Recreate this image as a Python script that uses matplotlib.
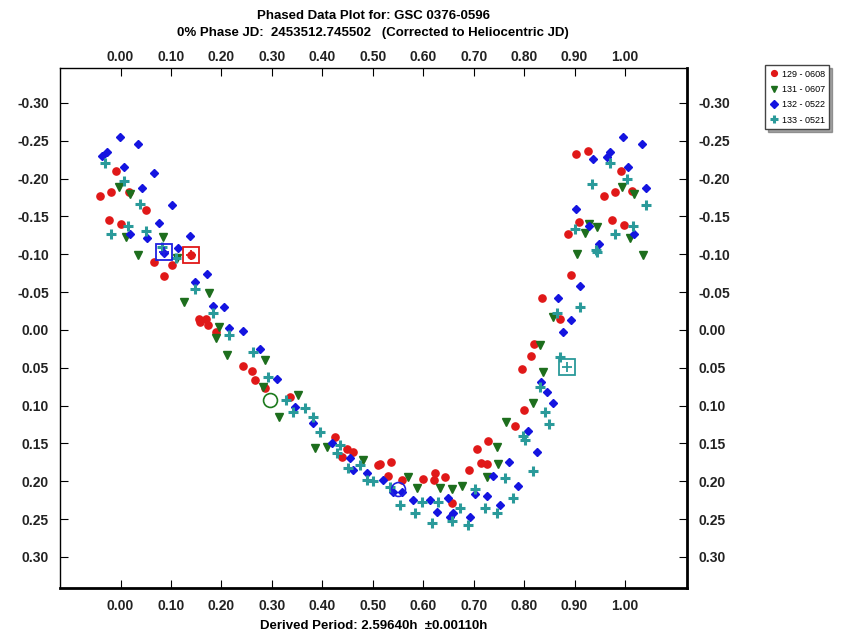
import numpy as np
import matplotlib
matplotlib.use("Agg")
import matplotlib.pyplot as plt
from matplotlib.ticker import FixedLocator, FuncFormatter

plt.rcParams['font.family'] = ['Liberation Sans', 'DejaVu Sans']
plt.rcParams['axes.unicode_minus'] = False

# Series 129 - 0608 (red circles)
fase_129 = [-0.04, -0.018, -0.008, 0.016, 0.05, -0.022, 0.0, 0.067, 0.103, 0.087, 0.14,
            0.155, 0.169, 0.157, 0.173, 0.19, 0.242, 0.26, 0.266, 0.286, 0.335, 0.425,
            0.448, 0.44, 0.46, 0.51, 0.514, 0.536, 0.53, 0.557, 0.60, 0.623, 0.643, 0.621,
            0.657, 0.69, 0.706, 0.714, 0.726, 0.728, 0.782, 0.80, 0.893, 0.835, 0.871,
            0.82, 0.813, 0.796, 0.903, 0.927, 0.992, 0.958, 0.98, 1.014, 0.909, 0.887,
            0.974, 0.998]
mag_129 = [-0.177, -0.182, -0.21, -0.182, -0.158, -0.145, -0.14, -0.09, -0.086, -0.071, -0.099,
           -0.015, -0.015, -0.011, -0.007, 0.003, 0.048, 0.054, 0.066, 0.077, 0.088, 0.141,
           0.158, 0.168, 0.161, 0.178, 0.177, 0.174, 0.193, 0.198, 0.197, 0.189, 0.194, 0.198,
           0.229, 0.185, 0.157, 0.176, 0.177, 0.147, 0.127, 0.106, -0.073, -0.042, -0.015,
           0.018, 0.034, 0.051, -0.233, -0.237, -0.21, -0.177, -0.182, -0.184, -0.143, -0.127,
           -0.145, -0.139]

# Series 131 - 0607 (green triangles)
fase_131 = [-0.004, 0.018, 0.01, 0.034, 0.085, 0.111, 0.175, 0.125, 0.196, 0.19, 0.212,
            0.286, 0.282, 0.315, 0.351, 0.385, 0.409, 0.48, 0.569, 0.587, 0.633, 0.657,
            0.677, 0.726, 0.748, 0.746, 0.764, 0.817, 0.905, 1.036, 0.857, 0.831, 0.837,
            0.994, 1.018, 0.921, 0.944, 0.929, 1.01]
mag_131 = [-0.189, -0.18, -0.123, -0.099, -0.123, -0.095, -0.049, -0.037, -0.004, 0.011, 0.033,
           0.04, 0.075, 0.115, 0.086, 0.156, 0.155, 0.172, 0.194, 0.209, 0.209, 0.21,
           0.206, 0.194, 0.177, 0.155, 0.122, 0.096, -0.1, -0.099, -0.017, 0.02, 0.055,
           -0.189, -0.18, -0.128, -0.136, -0.14, -0.122]

# Series 132 - 0522 (blue diamonds)
fase_132 = [-0.002, 0.034, -0.026, -0.036, 0.006, 0.067, 0.042, 0.103, 0.077, 0.052, 0.018,
            0.137, 0.087, 0.113, 0.171, 0.147, 0.183, 0.206, 0.216, 0.242, 0.276, 0.31,
            0.345, 0.381, 0.419, 0.454, 0.46, 0.488, 0.52, 0.54, 0.557, 0.579, 0.613, 0.627,
            0.649, 0.659, 0.653, 0.692, 0.702, 0.726, 0.752, 0.738, 0.77, 0.788, 0.808,
            0.825, 0.857, 0.911, 0.867, 0.893, 0.877, 0.833, 0.845, 0.996, 1.034, 0.97,
            0.964, 0.937, 1.006, 1.042, 0.903, 0.929, 1.018, 0.948]
mag_132 = [-0.255, -0.246, -0.235, -0.23, -0.215, -0.207, -0.188, -0.165, -0.141, -0.122, -0.127,
           -0.124, -0.102, -0.108, -0.074, -0.063, -0.032, -0.03, -0.003, 0.001, 0.025, 0.065,
           0.102, 0.123, 0.149, 0.169, 0.185, 0.189, 0.198, 0.214, 0.214, 0.225, 0.225, 0.24,
           0.222, 0.242, 0.247, 0.247, 0.217, 0.22, 0.232, 0.193, 0.174, 0.206, 0.133,
           0.161, 0.096, -0.058, -0.042, -0.013, 0.003, 0.069, 0.082, -0.255, -0.246, -0.235,
           -0.229, -0.226, -0.215, -0.188, -0.16, -0.138, -0.127, -0.114]

# Series 133 - 0521 (teal crosses)
fase_133 = [-0.03, 0.006, 0.038, 0.014, -0.018, 0.05, 0.083, 0.109, 0.147, 0.183, 0.216,
            0.262, 0.292, 0.329, 0.341, 0.365, 0.395, 0.381, 0.435, 0.429, 0.45, 0.474,
            0.488, 0.5, 0.534, 0.554, 0.583, 0.597, 0.629, 0.617, 0.657, 0.673, 0.688,
            0.702, 0.722, 0.746, 0.762, 0.778, 0.798, 0.817, 0.841, 0.849, 0.944, 0.911,
            0.865, 0.871, 0.831, 0.802, 0.97, 1.004, 0.935, 1.042, 0.90, 1.016, 0.98, 0.942]
mag_133 = [-0.22, -0.197, -0.166, -0.137, -0.127, -0.131, -0.11, -0.095, -0.054, -0.022, 0.007,
           0.029, 0.062, 0.092, 0.108, 0.103, 0.135, 0.115, 0.152, 0.162, 0.182, 0.178,
           0.198, 0.2, 0.207, 0.232, 0.242, 0.228, 0.227, 0.255, 0.253, 0.235, 0.258,
           0.21, 0.235, 0.242, 0.196, 0.222, 0.14, 0.187, 0.108, 0.124, -0.103, -0.03,
           -0.022, 0.036, 0.075, 0.145, -0.221, -0.2, -0.193, -0.165, -0.133, -0.137, -0.127, -0.106]

# marcadores de referência (quadrados / círculos)
ref_fase = [0.14, 0.087, 0.885]
ref_mag = [-0.099, -0.103, 0.049]
ref_cor = ['#e01818', '#2020e0', '#2a9a9a']
circ_fase = [0.296, 0.55]
circ_mag = [0.092, 0.21]
circ_cor = ['#1d7a1d', '#2020e0']

rotulos = ['129 - 0608', '131 - 0607', '132 - 0522', '133 - 0521']
cores = ['#e01818', '#1d6e1d', '#1414e0', '#2a9a9a']

fmt = FuncFormatter(lambda v, p: '%.2f' % (0.0 if abs(v) < 1e-9 else v))

fig = plt.figure(figsize=(8.52, 6.37), dpi=100)
ax = fig.add_axes([0.0704, 0.077, 0.736, 0.816])

ax.plot(fase_129, mag_129, 'o', color=cores[0], ms=5.2, mec=cores[0], label=rotulos[0])
ax.plot(fase_131, mag_131, 'v', color=cores[1], ms=6.2, mec=cores[1], label=rotulos[1])
ax.plot(fase_132, mag_132, 'D', color=cores[2], ms=4.5, mec=cores[2], label=rotulos[2])
ax.plot(fase_133, mag_133, '+', color=cores[3], ms=7.5, mew=2.2, label=rotulos[3])

for x, y, c in zip(ref_fase, ref_mag, ref_cor):
    ax.plot(x, y, 's', mfc='none', mec=c, ms=11, mew=1.3)
    ax.plot(x, y, '+', color=c, ms=7, mew=1.3)
for x, y, c in zip(circ_fase, circ_mag, circ_cor):
    ax.plot(x, y, 'o', mfc='none', mec=c, ms=10, mew=1.2)

ax.set_xlim(-0.12, 1.123)
ax.set_ylim(0.341, -0.346)

ax.xaxis.set_major_locator(FixedLocator(np.arange(0, 1.01, 0.1)))
ax.yaxis.set_major_locator(FixedLocator(np.arange(-0.30, 0.301, 0.05)))
ax.xaxis.set_major_formatter(fmt)
ax.yaxis.set_major_formatter(fmt)
ax.tick_params(axis='both', direction='in', top=True, right=True,
               labelright=True, labelsize=10, length=6, pad=8)

# eixo superior com os mesmos valores de fase
topo = ax.secondary_xaxis('top')
topo.xaxis.set_major_locator(FixedLocator(np.arange(0, 1.01, 0.1)))
topo.xaxis.set_major_formatter(fmt)
topo.tick_params(direction='in', length=0, labelsize=10, pad=3)

for lbl in ax.get_xticklabels() + ax.get_yticklabels() + topo.get_xticklabels():
    lbl.set_fontweight('bold')
    lbl.set_color('#222222')
topo.spines['top'].set_visible(False)
for side in ['top', 'left']:
    ax.spines[side].set_linewidth(1.0)
for side in ['bottom', 'right']:
    ax.spines[side].set_linewidth(2.0)

fig.text(0.5 * (0.0704 + 0.806), 0.985, 'Phased Data Plot for: GSC 0376-0596',
         ha='center', va='top', fontsize=9.5, fontweight='bold')
fig.text(0.5 * (0.0704 + 0.806), 0.958,
         '0% Phase JD:  2453512.745502   (Corrected to Heliocentric JD)',
         ha='center', va='top', fontsize=9.5, fontweight='bold')
ax.set_xlabel('Derived Period: 2.59640h  \u00b10.00110h', fontsize=9.5,
              fontweight='bold', labelpad=5)

leg = fig.legend(loc='upper left', bbox_to_anchor=(0.893, 0.905), fontsize=6.5,
                 frameon=True, shadow=True, fancybox=False, handletextpad=0.3,
                 borderpad=0.5, labelspacing=0.7, handlelength=1.0, markerscale=0.8)
leg.get_frame().set_edgecolor('#444444')

fig.savefig('out.png', dpi=100)
